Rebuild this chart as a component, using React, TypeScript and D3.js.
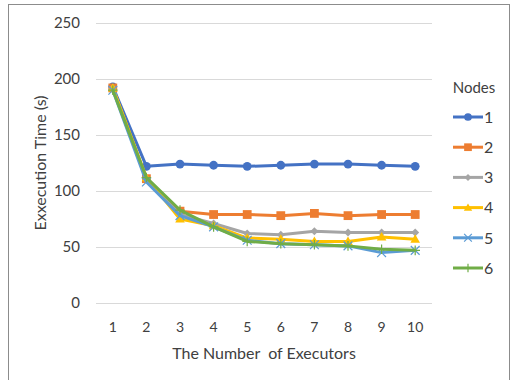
import React from "react";
import * as d3 from "d3";

const categories = ["1", "2", "3", "4", "5", "6", "7", "8", "9", "10"];
const seriesNames = ["1", "2", "3", "4", "5", "6"];
const s1 = [193, 122, 124, 123, 122, 123, 124, 124, 123, 122];
const s2 = [192, 111, 82, 79, 79, 78, 80, 78, 79, 79];
const s3 = [192, 110, 79, 71, 62, 61, 64, 63, 63, 63];
const s4 = [192, 112, 75, 69, 58, 57, 55, 55, 59, 57];
const s5 = [190, 108, 78, 68, 56, 53, 52, 51, 45, 47];
const s6 = [190, 112, 83, 68, 55, 53, 52, 51, 48, 47];
const yTicks = [0, 50, 100, 150, 200, 250];
const colors = ["#4472C4", "#ED7D31", "#A5A5A5", "#FFC000", "#5B9BD5", "#70AD47"];
const markers = ["circle", "square", "diamond", "triangle", "x", "plus"];

const allSeries = [s1, s2, s3, s4, s5, s6];
const FONT = "Lato, 'Open Sans', sans-serif";

function Marker({ type, x, y, color, s }: { type: string; x: number; y: number; color: string; s: number }) {
  switch (type) {
    case "circle":
      return <circle cx={x} cy={y} r={s * 0.55} fill={color} />;
    case "square":
      return <rect x={x - s * 0.55} y={y - s * 0.55} width={s * 1.1} height={s * 1.1} fill={color} />;
    case "diamond":
      return <path d={`M${x},${y - s * 0.5}L${x + s * 0.5},${y}L${x},${y + s * 0.5}L${x - s * 0.5},${y}Z`} fill={color} />;
    case "triangle":
      return <path d={`M${x},${y - s * 0.6}L${x + s * 0.6},${y + s * 0.45}L${x - s * 0.6},${y + s * 0.45}Z`} fill={color} />;
    case "x":
      return (
        <path d={`M${x - s * 0.55},${y - s * 0.55}L${x + s * 0.55},${y + s * 0.55}M${x - s * 0.55},${y + s * 0.55}L${x + s * 0.55},${y - s * 0.55}`} stroke={color} strokeWidth={1.2} />
      );
    case "plus":
      return <path d={`M${x - s * 0.6},${y}L${x + s * 0.6},${y}M${x},${y - s * 0.6}L${x},${y + s * 0.6}`} stroke={color} strokeWidth={1.2} />;
  }
  return null;
}

export default function App() {
  const W = 515, H = 380;
  const left = 96, right = 432, top = 23, bottom = 303;
  const x = d3.scaleBand<string>().domain(categories).range([left, right]);
  const y = d3.scaleLinear().domain([0, 250]).range([bottom, top]);
  const cx = (c: string) => (x(c) as number) + x.bandwidth() / 2;
  const line = d3
    .line<number>()
    .x((_, i) => cx(categories[i]))
    .y((d) => y(d));

  const legendX = 453, legendY0 = 117, legendStep = 30.2;

  return (
    <svg width={W} height={H} style={{ position: "absolute", left: 0, top: 0, background: "#fff" }} fontFamily={FONT}>
      <rect x={8.5} y={4.5} width={501} height={390} fill="#fff" stroke="#8c8c8c" strokeWidth={1} />
      {yTicks.map((t) => (
        <g key={t}>
          <line x1={left} x2={right} y1={Math.round(y(t)) + 0.5} y2={Math.round(y(t)) + 0.5} stroke="#d9d9d9" strokeWidth={1} />
          <text x={80} y={y(t)} dy="0.36em" textAnchor="end" fontSize={15} fill="#404040">
            {t}
          </text>
        </g>
      ))}
      {categories.map((c) => (
        <text key={c} x={cx(c)} y={327} dy="0.36em" textAnchor="middle" fontSize={14} fill="#404040">
          {c}
        </text>
      ))}
      <text x={264} y={353} dy="0.36em" textAnchor="middle" fontSize={16} fill="#404040" style={{ whiteSpace: "pre" }}>
        The Number  of Executors
      </text>
      <text transform={`translate(40,163) rotate(-90)`} dy="0.36em" textAnchor="middle" fontSize={16} fill="#404040">
        Exxecution Time (s)
      </text>
      {allSeries.map((s, si) => (
        <g key={si}>
          <path d={line(s) || ""} fill="none" stroke={colors[si]} strokeWidth={3} strokeLinejoin="round" />
          {s.map((v, i) => (
            <Marker key={i} type={markers[si]} x={cx(categories[i])} y={y(v)} color={colors[si]} s={8} />
          ))}
        </g>
      ))}
      <text x={474} y={88} dy="0.36em" textAnchor="middle" fontSize={15} fill="#404040">
        Nodes
      </text>
      {seriesNames.map((n, i) => {
        const ly = legendY0 + i * legendStep;
        return (
          <g key={n}>
            <line x1={legendX} x2={legendX + 30} y1={ly} y2={ly} stroke={colors[i]} strokeWidth={3} />
            <Marker type={markers[i]} x={legendX + 15} y={ly} color={colors[i]} s={7} />
            <text x={legendX + 31} y={ly} dy="0.36em" fontSize={16} fill="#404040">
              {n}
            </text>
          </g>
        );
      })}
    </svg>
  );
}
